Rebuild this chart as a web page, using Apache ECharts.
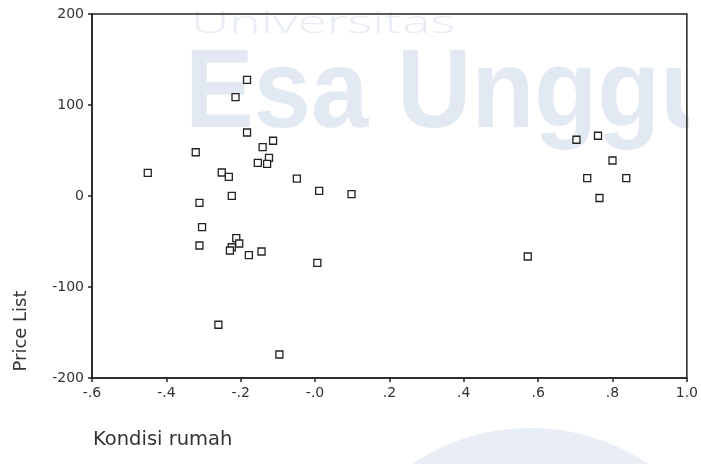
<!DOCTYPE html>
<html>
<head>
<meta charset="utf-8">
<script src="https://cdn.jsdelivr.net/npm/echarts@6/dist/echarts.min.js"></script>
<style>
html,body{margin:0;padding:0;background:#fff;}
#main{width:701px;height:464px;}
</style>
</head>
<body>
<div id="main"></div>
<script>
// Kondisi rumah (x) values
var kondisiRumah = [-0.183, -0.214, -0.183, -0.113, -0.141, -0.321, -0.124, -0.154, -0.129, -0.450,
  -0.251, -0.232, -0.049, 0.011, 0.098, -0.224, -0.311, -0.304, -0.311, -0.212,
  -0.204, -0.224, -0.229, -0.178, -0.144, 0.006, -0.260, -0.096, 0.703, 0.761,
  0.800, 0.732, 0.837, 0.765, 0.572];
// Price List (y) values
var priceList = [127.7, 108.6, 69.8, 60.7, 53.6, 48.1, 42.0, 36.5, 35.4, 25.5,
  25.8, 21.1, 19.2, 5.7, 2.0, 0.2, -7.5, -34.3, -54.4, -46.4,
  -52.2, -56.3, -59.9, -65.0, -61.0, -73.4, -141.5, -174.2, 61.8, 66.2,
  39.0, 19.6, 19.6, -2.2, -66.5];
var xTickLabels = {'-0.6':'-.6','-0.4':'-.4','-0.2':'-.2','0.0':'-.0','0.2':'.2','0.4':'.4','0.6':'.6','0.8':'.8','1.0':'1.0'};
var yTickLabels = {'-200':'-200','-100':'-100','0':'0','100':'100','200':'200'};
var xTitle = 'Kondisi rumah';
var yTitle = 'Price List';

var points = kondisiRumah.map(function (x, i) { return [x, priceList[i]]; });

var chart = echarts.init(document.getElementById('main'), null, {renderer: 'canvas'});
var textColor = '#333';
var font = 'DejaVu Sans';
chart.setOption({
  backgroundColor: '#fff',
  animation: false,
  graphic: [
    {type: 'circle', z: -10, shape: {cx: 530, cy: 639, r: 211}, style: {fill: '#e9eef5'}},
    {type: 'text', z: -10, x: 191, y: 9, scaleX: 1.72, style: {text: 'Universitas', fill: '#e8edf4', font: '300 31px "Open Sans"', textAlign: 'left', textVerticalAlign: 'top'}},
    {type: 'text', z: -10, x: 185, y: 40, scaleX: 0.92, style: {text: 'Esa Unggul', fill: '#e3e9f2', font: 'bold 112px "Liberation Sans"', textAlign: 'left', textVerticalAlign: 'top'}},
    {type: 'rect', z: -9, shape: {x: 689, y: 0, width: 12, height: 160}, style: {fill: '#fff'}},
    {type: 'text', z: 10, x: 21, y: 331, rotation: Math.PI / 2, style: {text: yTitle, fill: textColor, font: '18px "DejaVu Sans"', textAlign: 'center', textVerticalAlign: 'middle'}},
    {type: 'text', z: 10, x: 93, y: 440, style: {text: xTitle, fill: textColor, font: '19.5px "DejaVu Sans"', textAlign: 'left', textVerticalAlign: 'middle'}}
  ],
  grid: {left: 92, right: 14, top: 14, bottom: 86, show: true, borderColor: '#222', borderWidth: 1.5, backgroundColor: 'transparent'},
  xAxis: {
    type: 'value', min: -0.6, max: 1.0, interval: 0.2,
    axisLine: {show: true, onZero: false, lineStyle: {color: '#222', width: 1.5}},
    axisTick: {show: true, length: 4, lineStyle: {color: '#222', width: 1.5}},
    splitLine: {show: false},
    axisLabel: {color: textColor, fontFamily: font, fontSize: 14, margin: 8,
      formatter: function (v) { var k = (Math.round(v * 10) / 10).toFixed(1); return xTickLabels[k] !== undefined ? xTickLabels[k] : k; }}
  },
  yAxis: {
    type: 'value', min: -200, max: 200, interval: 100,
    axisLine: {show: true, onZero: false, lineStyle: {color: '#222', width: 1.5}},
    axisTick: {show: true, length: 4, lineStyle: {color: '#222', width: 1.5}},
    splitLine: {show: false},
    axisLabel: {color: textColor, fontFamily: font, fontSize: 14, margin: 8,
      formatter: function (v) { var k = String(Math.round(v)); return yTickLabels[k] !== undefined ? yTickLabels[k] : k; }}
  },
  series: [{
    type: 'scatter',
    data: points,
    symbol: 'rect',
    symbolSize: 7,
    itemStyle: {color: '#fff', borderColor: '#222', borderWidth: 1.3, opacity: 1}
  }]
});
</script>
</body>
</html>
